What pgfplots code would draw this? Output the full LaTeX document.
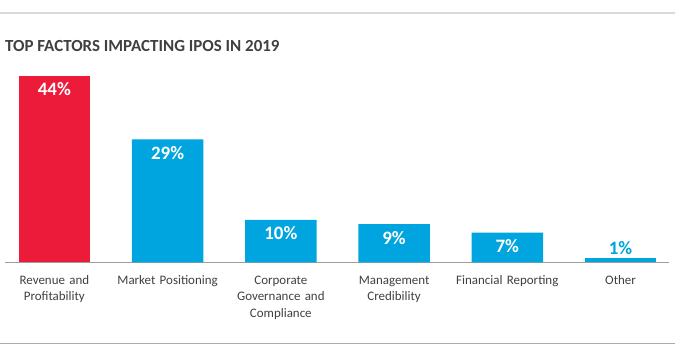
\documentclass[border=0pt]{standalone}
\usepackage{fontspec}
\setmainfont{Carlito}
\usepackage{pgfplots}
\pgfplotsset{compat=1.18}
\definecolor{barred}{HTML}{ED1B3A}
\definecolor{barblue}{HTML}{00A4DE}
\definecolor{txtgray}{HTML}{404040}
\begin{document}
\begin{tikzpicture}[x=1bp,y=1bp]
\useasboundingbox (0,0) rectangle (675,-357);
\draw[color=black!15, line width=1.2bp] (0,-13) -- (675,-13);
\draw[color=black!33, line width=1bp] (0,-343) -- (675,-343);
\node[anchor=base west, font=\bfseries\fontsize{17}{20}\selectfont, text=txtgray, inner sep=0pt] at (5,-51) {TOP FACTORS IMPACTING IPOS IN 2019};
\begin{axis}[
  at={(5bp,-262.3bp)}, anchor=south west,
  scale only axis, width=664bp, height=211.75bp,
  xmin=-0.4358, xmax=5.428, ymin=0, ymax=50,
  axis x line=bottom, axis y line=none,
  axis line style={draw=black!38, line width=1bp, -},
  xtick={0,1,2,3,4,5},
  xticklabels={{Revenue and\\Profitability},{Market Positioning},{Corporate\\Governance and\\Compliance},{Management\\Credibility},{Financial Reporting},{Other}},
  major tick length=0pt,
  xticklabel style={align=center, text width=130bp, anchor=base, yshift=-22bp, font=\fontsize{13}{16.7}\selectfont, text=txtgray, inner sep=0pt},
  clip=false,
  nodes near coords={\pgfmathprintnumber[fixed,precision=0,assume math mode=true]{\pgfplotspointmeta}\%},
  every node near coord/.style={anchor=base, yshift=-20bp, text=white, font=\bfseries\fontsize{19}{22}\selectfont, inner sep=0pt},
]
\addplot[ybar, bar width=71.5bp, bar shift=0pt, fill=barred, draw=none] coordinates {(0,44)};
\addplot[ybar, bar width=71.5bp, bar shift=0pt, fill=barblue, draw=none] coordinates {(1,29) (2,10) (3,9) (4,7)};
\addplot[ybar, bar width=71.5bp, bar shift=0pt, fill=barblue, draw=none,
  every node near coord/.style={anchor=base, yshift=3.5bp, text=barblue, font=\bfseries\fontsize{19}{22}\selectfont, inner sep=0pt}] coordinates {(5,1)};
\end{axis}
\end{tikzpicture}
\end{document}
